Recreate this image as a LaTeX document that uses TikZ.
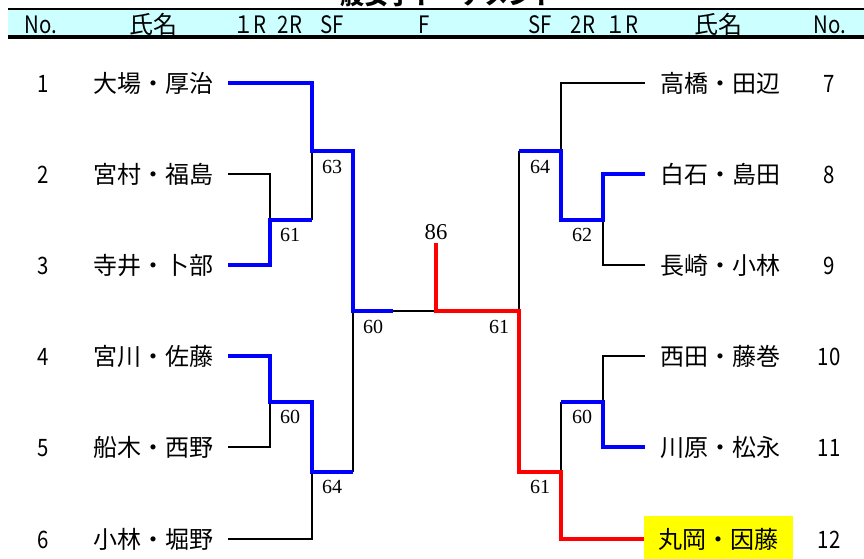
\documentclass[tikz,border=0pt]{standalone}
\usepackage{fontspec}
\setmainfont{Noto Sans CJK JP}
\newfontfamily\narrowfont[FakeStretch=0.85]{Noto Sans CJK JP}
\newfontfamily\scorefont{Liberation Serif}
\usetikzlibrary{calc}
\definecolor{headcyan}{HTML}{CCFFFF}
\definecolor{winblue}{HTML}{0000FF}
\definecolor{champred}{HTML}{FF0000}
\definecolor{champyellow}{HTML}{FFFF00}

\begin{document}
\begin{tikzpicture}[
    x=0.75pt, y=-0.75pt,
    player/.style={inner sep=0pt, minimum width=112.5pt, minimum height=34.5pt, text height=13.5pt, text depth=0pt, font=\fontsize{18}{18}\selectfont},
    seed/.style={inner sep=0pt, text height=13.5pt, text depth=0pt, font=\narrowfont\fontsize{18}{18}\selectfont},
    headtxt/.style={seed},
    headjp/.style={seed, font=\fontsize{18}{18}\selectfont},
    score/.style={inner sep=0pt, font=\scorefont\fontsize{15}{15}\selectfont},
    lost/.style={line width=2.2pt, black},
    won/.style={line width=3pt, winblue},
    champ/.style={line width=3pt, champred}
]
\useasboundingbox (0,0) rectangle (864,558);

% ---- Title (cut off at the top) ----
\node[anchor=base, inner sep=0pt, font=\bfseries\fontsize{18}{18}\selectfont] (title) at (436,4) {一般女子トーナメント};

% ---- Header band ----
\fill[headcyan] (8,10) rectangle (864,35);
\draw[line width=1.5pt] (8,9) -- (864,9);
\draw[line width=3pt] (8,37) -- (864,37);
\node[headtxt] (hnoL) at (41,24) {No.};
\node[headjp] (hnameL) at (153,24) {氏名};
\node[headtxt] (h1L) at (250,24) {１R};
\node[headtxt] (h2L) at (290,24) {2R};
\node[headtxt] (hsfL) at (332,24) {SF};
\node[headtxt] (hf) at (424,24) {F};
\node[headtxt] (hsfR) at (540,24) {SF};
\node[headtxt] (h2R) at (583,24) {2R};
\node[headtxt] (h1R) at (622,24) {１R};
\node[headjp] (hnameR) at (718,24) {氏名};
\node[headtxt] (hnoR) at (830,24) {No.};

% ---- Left half ----
\node[seed] (no1) at (43,83) {1};
\node[seed] (no2) at (43,174) {2};
\node[seed] (no3) at (43,265) {3};
\node[seed] (no4) at (43,356) {4};
\node[seed] (no5) at (43,447) {5};
\node[seed] (no6) at (43,539) {6};
\node[player] (name1) at (153,83) {大場・厚治};
\node[player] (name2) at (153,174) {宮村・福島};
\node[player] (name3) at (153,265) {寺井・卜部};
\node[player] (name4) at (153,356) {宮川・佐藤};
\node[player] (name5) at (153,447) {船木・西野};
\node[player] (name6) at (153,539) {小林・堀野};

% ---- Right half ----
\node[seed] (no7) at (829,83) {7};
\node[seed] (no8) at (829,174) {8};
\node[seed] (no9) at (829,265) {9};
\node[seed] (no10) at (829,356) {10};
\node[seed] (no11) at (829,447) {11};
\node[seed] (no12) at (829,539) {12};
\node[player] (name7) at (720,83) {高橋・田辺};
\node[player] (name8) at (720,174) {白石・島田};
\node[player] (name9) at (720,265) {長崎・小林};
\node[player] (name10) at (720,356) {西田・藤巻};
\node[player] (name11) at (720,447) {川原・松永};
\node[player, fill=champyellow, minimum width=111.75pt] (name12) at (718.5,539) {丸岡・因藤};

% ---- Match joints ----
\coordinate (j23) at (270,220);
\coordinate (j1) at (312,151);
\coordinate (j45) at (270,402);
\coordinate (j6) at (312,472);
\coordinate (jL) at (353,311);
\coordinate (half) at (393,311);
\coordinate (fin) at (436,311);
\coordinate (top) at (436,243);
\coordinate (j89) at (603,220);
\coordinate (j7) at (561,151);
\coordinate (j1011) at (603,402);
\coordinate (j12) at (561,472);
\coordinate (jR) at (519,311);

% ---- Lost lines ----
\draw[lost] (name2.east) -| (j23);
\draw[lost] (j23 -| j1) -- (j1);
\draw[lost] (name5.east) -| (j45);
\draw[lost] (name6.east) -| (j6);
\draw[lost] (j6 -| jL) -- (jL);
\draw[lost] (half) -- (fin);
\draw[lost] (name7.west) -| (j7);
\draw[lost] (name9.west) -| (j89);
\draw[lost] (j7 -| jR) -- (jR);
\draw[lost] (name10.west) -| (j1011);
\draw[lost] (j1011 -| j12) -- (j12);

% ---- Winner lines ----
\draw[won] (name1.east) -| (j1) -| (jL) -- (half);
\draw[won] (name3.east) -| (j23) -- (j23 -| j1);
\draw[won] (name4.east) -| (j45) -| (j6) -- (j6 -| jL);
\draw[won] (name8.west) -| (j89) -| (j7) -- (j7 -| jR);
\draw[won] (name11.west) -| (j1011) -- (j1011 -| j12);
\draw[champ] (name12.west) -| (j12) -| (jR) -- (fin) -- (top);

% ---- Scores ----
\node[score] (sc23) at ($(j23)+(20,15)$) {61};
\node[score] (sc1) at ($(j1)+(20,16)$) {63};
\node[score] (sc45) at ($(j45)+(20,15)$) {60};
\node[score] (sc6) at ($(j6)+(20,15)$) {64};
\node[score] (scL) at ($(jL)+(20,16)$) {60};
\node[score] (sc89) at ($(j89)+(-21,15)$) {62};
\node[score] (sc7) at ($(j7)+(-21,16)$) {64};
\node[score] (sc1011) at ($(j1011)+(-21,15)$) {60};
\node[score] (sc12) at ($(j12)+(-21,15)$) {61};
\node[score] (scR) at ($(jR)+(-20,16)$) {61};
\node[score, anchor=south, font=\scorefont\fontsize{17}{17}\selectfont] (scF) at ($(top)+(0,-3)$) {86};

\end{tikzpicture}
\end{document}
